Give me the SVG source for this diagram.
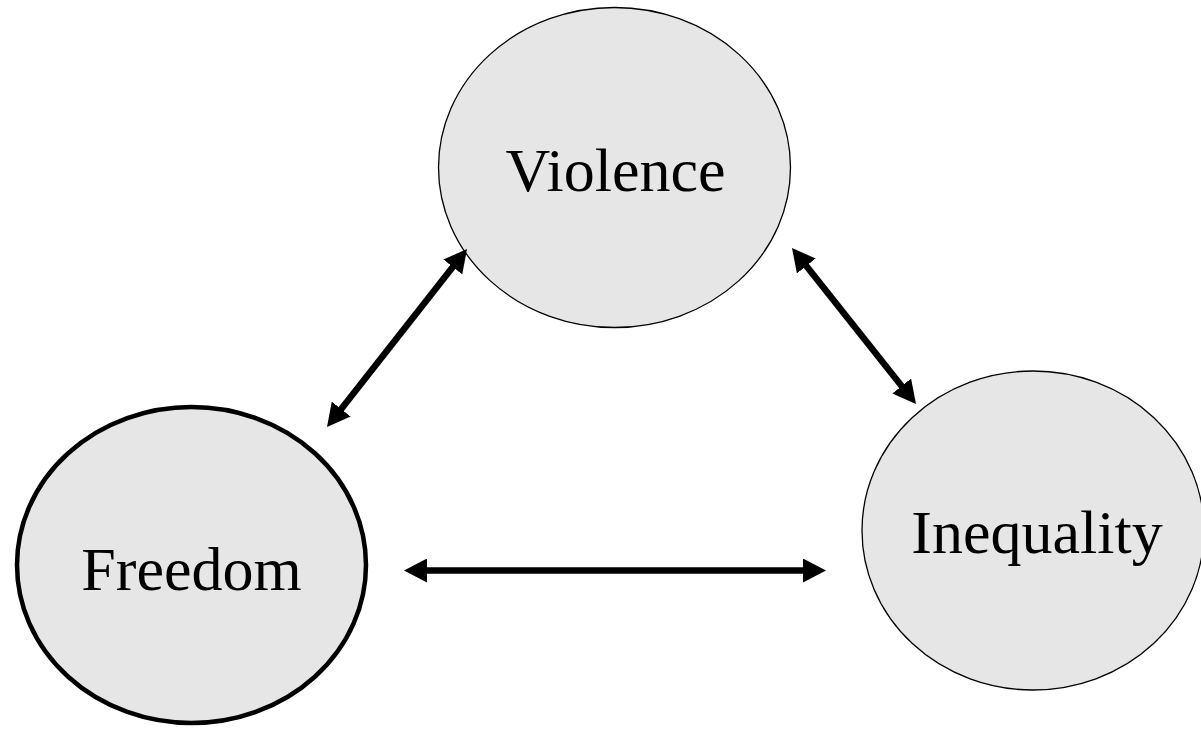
<svg xmlns="http://www.w3.org/2000/svg" width="1201" height="730" viewBox="0 0 1201 730">
<style>
.node{fill:#e6e6e6;stroke:#000;stroke-width:1.3}
.thick{stroke-width:4.5}
.lbl{font-family:"Liberation Serif","Times New Roman",serif;font-size:62px;fill:#000;text-anchor:middle}
.conn{stroke:#000;stroke-width:6.5;fill:none;marker-start:url(#ah);marker-end:url(#ah)}
</style>
<defs>
<marker id="ah" markerUnits="userSpaceOnUse" markerWidth="24" markerHeight="24" refX="5" refY="12" orient="auto-start-reverse" viewBox="0 0 24 24">
<path d="M0,0 L23,12 L0,24 Z" fill="#000"/>
</marker>
</defs>
<rect width="1201" height="730" fill="#fff"/>
<g id="violence">
<ellipse class="node" cx="614.5" cy="167.5" rx="176" ry="160"/>
<text class="lbl" x="615.5" y="191">Violence</text>
</g>
<g id="freedom">
<ellipse class="node thick" cx="191.5" cy="565" rx="174.5" ry="158"/>
<text class="lbl" x="191.5" y="590">Freedom</text>
</g>
<g id="inequality">
<ellipse class="node" cx="1033" cy="530.5" rx="171" ry="159.5"/>
<text class="lbl" x="1037" y="553">Inequality</text>
</g>
<g id="connectors">
<line class="conn" x1="338.1" y1="412.9" x2="455.9" y2="263.1"/>
<line class="conn" x1="803.2" y1="262.1" x2="904.8" y2="389.9"/>
<line class="conn" x1="422" y1="570.5" x2="808" y2="570.5"/>
</g>
</svg>
